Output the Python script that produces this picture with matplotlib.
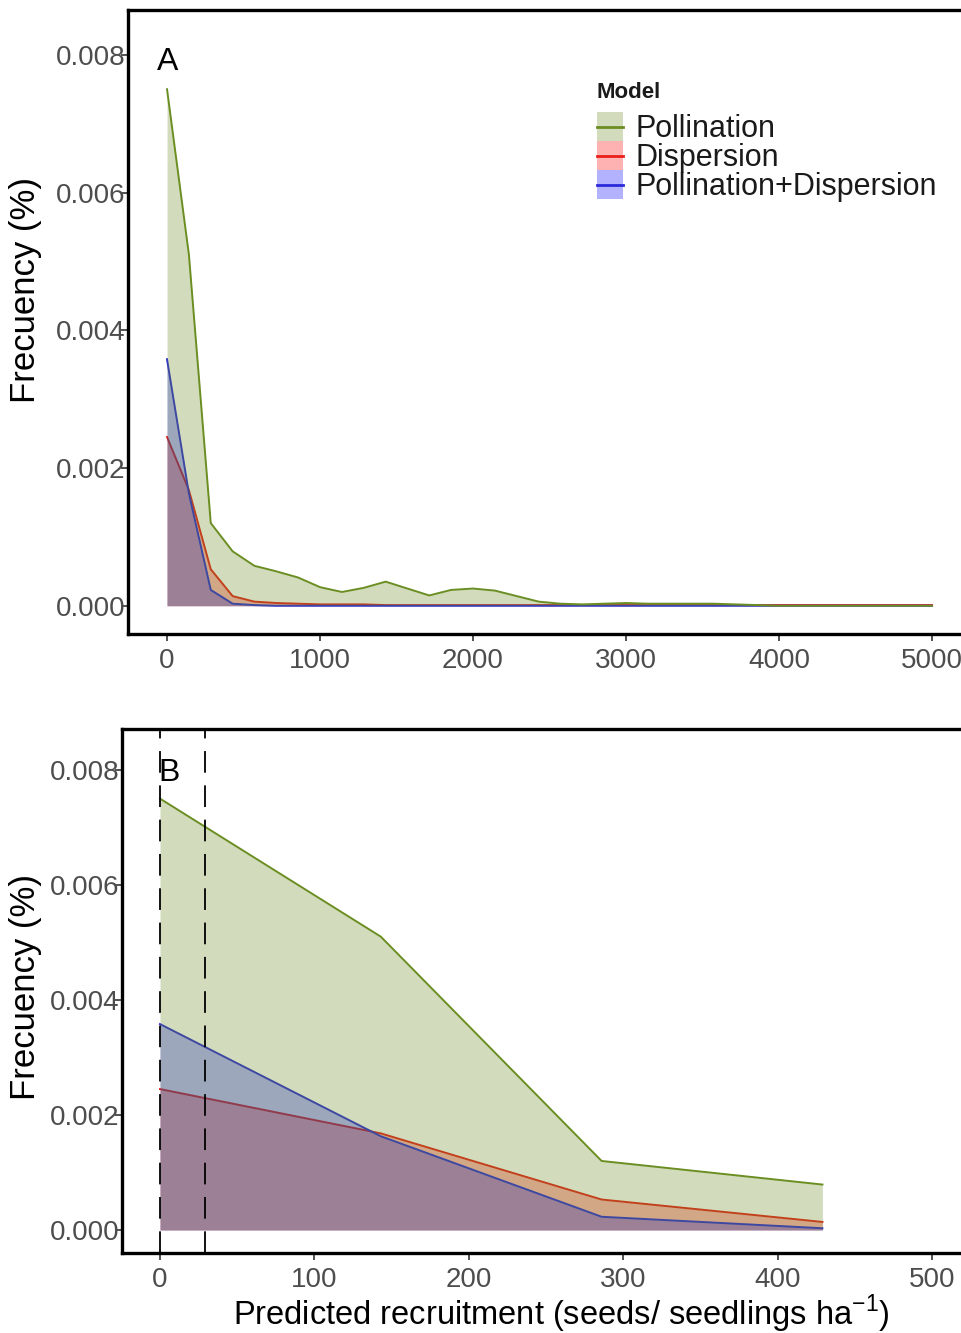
import matplotlib
matplotlib.use("Agg")
import matplotlib.pyplot as plt
from matplotlib.patches import Rectangle
from matplotlib.lines import Line2D

plt.rcParams['font.family'] = ['Liberation Sans', 'DejaVu Sans']

# bin centres of predicted recruitment (seeds / seedlings per ha)
recruitment = [0, 143, 286, 429, 571, 714, 857, 1000, 1143, 1286, 1429, 1571,
               1714, 1857, 2000, 2143, 2286, 2429, 2571, 2714, 2857, 3000,
               3143, 3286, 3429, 3571, 3714, 3857, 4000, 4143, 4286, 4429,
               4571, 4714, 4857, 5000]

# frequency for each model
pollination = [0.00750, 0.00510, 0.00120, 0.00079, 0.00058, 0.00050, 0.00041,
               0.00027, 0.00020, 0.00026, 0.00035, 0.00025, 0.00015, 0.00023,
               0.00025, 0.00022, 0.00014, 0.00006, 0.00003, 0.00002, 0.00003,
               0.00004, 0.00003, 0.00003, 0.00003, 0.00003, 0.00002, 0.00001,
               0.0, 0.0, 0.0, 0.0, 0.0, 0.0, 0.0, 0.0]
dispersion = [0.00245, 0.00168, 0.00053, 0.00014, 0.00006, 0.00004, 0.00003,
              0.00002, 0.00002, 0.00002, 0.00001, 0.00001, 0.00001, 0.00001,
              0.00001, 0.00001, 0.00001, 0.00001, 0.00001, 0.00001, 0.00001,
              0.00001, 0.00001, 0.00001, 0.00001, 0.00001, 0.00001, 0.00001,
              0.00001, 0.00001, 0.00001, 0.00001, 0.00001, 0.00001, 0.00001,
              0.00001]
poll_disp = [0.00358, 0.00163, 0.00023, 0.00003, 0.00001, 0.0, 0.0, 0.0, 0.0,
             0.0, 0.0, 0.0, 0.0, 0.0, 0.0, 0.0, 0.0, 0.0, 0.0, 0.0, 0.0, 0.0,
             0.0, 0.0, 0.0, 0.0, 0.0, 0.0, 0.0, 0.0, 0.0, 0.0, 0.0, 0.0, 0.0,
             0.0]

models = ["Pollination", "Dispersion", "Pollination+Dispersion"]
line_colors = ["#6B8E23", "#E8201A", "#2A2AD8"]
fill_colors = ["#6B8E23", "#FF0000", "#0000FF"]

# dashed reference lines in panel B
vlines_b = [0, 29]

yticks = [0.000, 0.002, 0.004, 0.006, 0.008]
ytick_labels = ["0.000", "0.002", "0.004", "0.006", "0.008"]

W, H = 961, 1333
fig = plt.figure(figsize=(W / 100, H / 100), dpi=100)

ax_a = fig.add_axes([128 / W, 1 - 634 / H, (1000 - 128) / W, 624 / H])
ax_b = fig.add_axes([122 / W, 1 - 1253 / H, (1000 - 122) / W, 524 / H])


def draw_panel(ax, n):
    series = [pollination, dispersion, poll_disp]
    # areas are stacked dispersion, pollination+dispersion, pollination
    for i in [1, 2, 0]:
        vals = series[i]
        ax.fill_between(recruitment[:n], 0, vals[:n], color=fill_colors[i],
                        alpha=0.3, linewidth=0, zorder=2)
        ax.plot(recruitment[:n], vals[:n], color=line_colors[i],
                linewidth=1.4, zorder=2)
    for sp in ax.spines.values():
        sp.set_linewidth(2.4)
        sp.set_color("black")
    ax.set_yticks(yticks)
    ax.set_yticklabels(ytick_labels)
    ax.tick_params(axis="both", length=5, width=1.2, color="#333333",
                   labelcolor="#4D4D4D", labelsize=20)
    ax.tick_params(axis="y", pad=-3)
    ax.tick_params(axis="x", pad=5)
    ax.set_ylabel("Frecuency (%)", fontsize=25)


draw_panel(ax_a, len(recruitment))
ax_a.set_xlim(-255, 5444)
ax_a.set_ylim(-0.00041, 0.00865)
ax_a.set_xticks([0, 1000, 2000, 3000, 4000, 5000])
ax_a.yaxis.set_label_coords(-0.0986, 0.551)
ax_a.text(5, 0.0079, "A", fontsize=23, ha="center", va="center")

draw_panel(ax_b, 4)
ax_b.set_xlim(-24.6, 544)
ax_b.set_ylim(-0.0004, 0.00871)
ax_b.set_xticks([0, 100, 200, 300, 400, 500])
ax_b.yaxis.set_label_coords(-0.0911, 0.508)
for v in vlines_b:
    ax_b.axvline(v, color="black", linestyle=(0, (12, 7)), linewidth=1.3,
                 zorder=3)
ax_b.text(6, 0.00795, "B", fontsize=23, ha="center", va="center")
ax_b.set_xlabel("Predicted recruitment (seeds/ seedlings ha$^{\\mathregular{-1}}$)",
                fontsize=23.5, labelpad=0)

# legend (ggplot style, keys stacked without gaps)
fig.text(597 / W, 1 - 92 / H, "Model", fontsize=16, fontweight="bold",
         ha="left", va="center", color="#1A1A1A")
for i, (lab, lc, fc) in enumerate(zip(models, line_colors, fill_colors)):
    top = 112 + 29 * i
    fig.patches.append(Rectangle((597 / W, 1 - (top + 29) / H), 26 / W, 29 / H,
                                 transform=fig.transFigure, facecolor=fc,
                                 alpha=0.3, edgecolor="none"))
    yc = 1 - (top + 14.5) / H
    fig.lines.append(Line2D([597 / W, 623 / W], [yc, yc],
                            transform=fig.transFigure, color=lc, linewidth=2))
    fig.text(636 / W, 1 - (top + 17) / H, lab, fontsize=22, ha="left",
             va="center", color="#1A1A1A")

fig.savefig("out.png", dpi=100)
